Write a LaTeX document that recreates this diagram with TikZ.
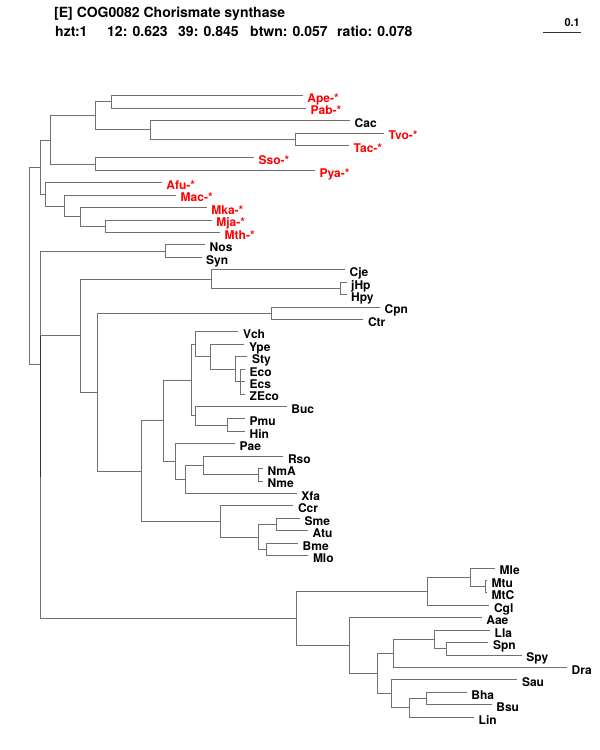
\documentclass[tikz,border=0pt]{standalone}
\usepackage{fontspec}
\setmainfont{TeX Gyre Heros}
\usepackage{tikz}

\begin{document}
\begin{tikzpicture}[x=1pt, y=-1pt,
  txt/.style={font=\fontsize{12}{14}\selectfont\bfseries, inner sep=0pt},
  head/.style={font=\fontsize{14}{16}\selectfont\bfseries, inner sep=0pt, anchor=base west},
  branch/.style={draw=black!56, line width=1pt},
  leaf/.style={txt, anchor=west, inner xsep=4.5pt, text height=13.6pt, text depth=0pt},
  arch/.style={leaf, text=red}]
  \fill[white] (0,0) rectangle (600,750);
  \useasboundingbox (0,0) rectangle (600,750);

  % header and scale
  \node[head] (title) at (54,17) {[E] COG0082 Chorismate synthase};
  \node[head] (hzt) at (55,36) {hzt:1};
  \node[head] (s12) at (107,36) {12: 0.623};
  \node[head] (s39) at (178,36) {39: 0.845};
  \node[head] (btwn) at (250,36) {btwn: 0.057};
  \node[head] (ratio) at (337,36) {ratio: 0.078};
  \coordinate (sc0) at (543,32);
  \coordinate (sc1) at (581,32);
  \draw[black!80, line width=1pt] (sc0) -- (sc1);
  \node[txt, font=\fontsize{11}{13}\selectfont\bfseries, anchor=base east] (scale) at (580,26.5) {0.1};

  % leaves
  \node[arch] (Ape) at (302.7,95.7) {Ape-*};
  \node[arch] (Pab) at (306,108.1) {Pab-*};
  \node[leaf] (Cac) at (350,120.6) {Cac};
  \node[arch] (Tvo) at (384,133.0) {Tvo-*};
  \node[arch] (Tac) at (349,145.4) {Tac-*};
  \node[arch] (Sso) at (254,157.9) {Sso-*};
  \node[arch] (Pya) at (315,170.3) {Pya-*};
  \node[arch] (Afu) at (161.7,182.7) {Afu-*};
  \node[arch] (Mac) at (176,195.1) {Mac-*};
  \node[arch] (Mka) at (206.7,207.6) {Mka-*};
  \node[arch] (Mja) at (211.7,220.0) {Mja-*};
  \node[arch] (Mth) at (220,232.4) {Mth-*};
  \node[leaf] (Nos) at (205,244.9) {Nos};
  \node[leaf] (Syn) at (201.5,257.3) {Syn};
  \node[leaf] (Cje) at (345,269.7) {Cje};
  \node[leaf] (jHp) at (346.5,282.2) {jHp};
  \node[leaf] (Hpy) at (346.5,294.6) {Hpy};
  \node[leaf] (Cpn) at (380,307.0) {Cpn};
  \node[leaf] (Ctr) at (363.3,319.4) {Ctr};
  \node[leaf] (Vch) at (238.3,331.9) {Vch};
  \node[leaf] (Ype) at (244.3,344.3) {Ype};
  \node[leaf] (Sty) at (247.3,356.7) {Sty};
  \node[leaf] (Eco) at (245,369.2) {Eco};
  \node[leaf] (Ecs) at (245,381.6) {Ecs};
  \node[leaf] (ZEco) at (245,394.0) {ZEco};
  \node[leaf] (Buc) at (286.7,406.5) {Buc};
  \node[leaf] (Pmu) at (245,418.9) {Pmu};
  \node[leaf] (Hin) at (245,431.3) {Hin};
  \node[leaf] (Pae) at (235,443.7) {Pae};
  \node[leaf] (Rso) at (283.3,456.2) {Rso};
  \node[leaf] (NmA) at (263,468.6) {NmA};
  \node[leaf] (Nme) at (263,481.0) {Nme};
  \node[leaf] (Xfa) at (296.7,493.5) {Xfa};
  \node[leaf] (Ccr) at (293.3,505.9) {Ccr};
  \node[leaf] (Sme) at (300,518.3) {Sme};
  \node[leaf] (Atu) at (308,530.8) {Atu};
  \node[leaf] (Bme) at (298,543.2) {Bme};
  \node[leaf] (Mlo) at (308.3,555.6) {Mlo};
  \node[leaf] (Mle) at (495,568.0) {Mle};
  \node[leaf] (Mtu) at (487,580.4) {Mtu};
  \node[leaf] (MtC) at (487,592.9) {MtC};
  \node[leaf] (Cgl) at (489.3,605.3) {Cgl};
  \node[leaf] (Aae) at (481.7,617.7) {Aae};
  \node[leaf] (Lla) at (490,630.2) {Lla};
  \node[leaf] (Spn) at (488.3,642.6) {Spn};
  \node[leaf] (Spy) at (521.7,655.0) {Spy};
  \node[leaf] (Dra) at (567,667.5) {Dra};
  \node[leaf] (Sau) at (517.3,679.9) {Sau};
  \node[leaf] (Bha) at (466.7,692.3) {Bha};
  \node[leaf] (Bsu) at (491.7,704.7) {Bsu};
  \node[leaf] (Lin) at (474,717.2) {Lin};

  % inner nodes
  \coordinate (nRoot) at (29.3,265.7);
  \coordinate (nArch) at (40,167.2);
  \coordinate (nA1) at (50.7,140.0);
  \coordinate (nA2) at (95,115.9);
  \coordinate (nAP) at (111.7,101.9);
  \coordinate (nCT) at (150.7,129.9);
  \coordinate (nTT) at (295,139.2);
  \coordinate (nSP) at (95,164.1);
  \coordinate (nB1) at (45.7,194.4);
  \coordinate (nB2) at (64,206.0);
  \coordinate (nB3) at (80.7,216.9);
  \coordinate (nMM) at (105,226.2);
  \coordinate (nQ) at (40,364.1);
  \coordinate (nNS) at (165,251.1);
  \coordinate (nP) at (40,477.1);
  \coordinate (nPE) at (80,335.6);
  \coordinate (nCH) at (211,279.1);
  \coordinate (nHP) at (340,288.4);
  \coordinate (nPC) at (97.7,392.2);
  \coordinate (nCC) at (271,313.2);
  \coordinate (nPro) at (141.7,471.1);
  \coordinate (nGam) at (163.3,420.8);
  \coordinate (nEnt) at (191.7,380.1);
  \coordinate (nVch) at (195.7,344.3);
  \coordinate (nYpe) at (210,356.8);
  \coordinate (nSty) at (235,369.2);
  \coordinate (nEco) at (240,381.6);
  \coordinate (nBuc) at (195.7,415.8);
  \coordinate (nPH) at (227.7,425.1);
  \coordinate (nPae) at (175.7,461.6);
  \coordinate (nXfa) at (185,479.5);
  \coordinate (nRso) at (203.3,465.5);
  \coordinate (nNM) at (258.3,474.8);
  \coordinate (nAlp) at (220.7,521.5);
  \coordinate (nRhi) at (258.3,537.0);
  \coordinate (nSA) at (276.7,524.6);
  \coordinate (nBM) at (266.7,549.4);
  \coordinate (nAF) at (296.7,618.5);
  \coordinate (nAct) at (427.7,591.3);
  \coordinate (nMle) at (470,577.3);
  \coordinate (nMT) at (485.7,586.7);
  \coordinate (nAae) at (349,645.7);
  \coordinate (nFir) at (377.7,673.7);
  \coordinate (nDra) at (393.3,653.5);
  \coordinate (nLla) at (434,639.5);
  \coordinate (nSS) at (446.7,648.8);
  \coordinate (nSau) at (391.7,693.9);
  \coordinate (nLin) at (409,707.9);
  \coordinate (nBB) at (426,698.5);

  % branches
  \draw[branch] (nRoot) |- (nArch) (nRoot) |- (nQ);
  \draw[branch] (nArch) |- (nA1) (nArch) |- (nB1);
  \draw[branch] (nA1) |- (nA2) (nA1) |- (nSP);
  \draw[branch] (nA2) |- (nAP) (nA2) |- (nCT);
  \draw[branch] (nAP) |- (Ape) (nAP) |- (Pab);
  \draw[branch] (nCT) |- (Cac) (nCT) |- (nTT);
  \draw[branch] (nTT) |- (Tvo) (nTT) |- (Tac);
  \draw[branch] (nSP) |- (Sso) (nSP) |- (Pya);
  \draw[branch] (nB1) |- (Afu) (nB1) |- (nB2);
  \draw[branch] (nB2) |- (Mac) (nB2) |- (nB3);
  \draw[branch] (nB3) |- (Mka) (nB3) |- (nMM);
  \draw[branch] (nMM) |- (Mja) (nMM) |- (Mth);
  \draw[branch] (nQ) |- (nNS) (nQ) |- (nP);
  \draw[branch] (nNS) |- (Nos) (nNS) |- (Syn);
  \draw[branch] (nP) |- (nPE) (nP) |- (nAF);
  \draw[branch] (nPE) |- (nCH) (nPE) |- (nPC);
  \draw[branch] (nCH) |- (Cje) (nCH) |- (nHP);
  \draw[branch] (nHP) |- (jHp) (nHP) |- (Hpy);
  \draw[branch] (nPC) |- (nCC) (nPC) |- (nPro);
  \draw[branch] (nCC) |- (Cpn) (nCC) |- (Ctr);
  \draw[branch] (nPro) |- (nGam) (nPro) |- (nAlp);
  \draw[branch] (nGam) |- (nEnt) (nGam) |- (nPae);
  \draw[branch] (nEnt) |- (nVch) (nEnt) |- (nBuc);
  \draw[branch] (nVch) |- (Vch) (nVch) |- (nYpe);
  \draw[branch] (nYpe) |- (Ype) (nYpe) |- (nSty);
  \draw[branch] (nSty) |- (Sty) (nSty) |- (nEco);
  \draw[branch] (nEco) |- (Eco) (nEco) |- (Ecs) (nEco) |- (ZEco);
  \draw[branch] (nBuc) |- (Buc) (nBuc) |- (nPH);
  \draw[branch] (nPH) |- (Pmu) (nPH) |- (Hin);
  \draw[branch] (nPae) |- (Pae) (nPae) |- (nXfa);
  \draw[branch] (nXfa) |- (nRso) (nXfa) |- (Xfa);
  \draw[branch] (nRso) |- (Rso) (nRso) |- (nNM);
  \draw[branch] (nNM) |- (NmA) (nNM) |- (Nme);
  \draw[branch] (nAlp) |- (Ccr) (nAlp) |- (nRhi);
  \draw[branch] (nRhi) |- (nSA) (nRhi) |- (nBM);
  \draw[branch] (nSA) |- (Sme) (nSA) |- (Atu);
  \draw[branch] (nBM) |- (Bme) (nBM) |- (Mlo);
  \draw[branch] (nAF) |- (nAct) (nAF) |- (nAae);
  \draw[branch] (nAct) |- (nMle) (nAct) |- (Cgl);
  \draw[branch] (nMle) |- (Mle) (nMle) |- (nMT);
  \draw[branch] (nMT) |- (Mtu) (nMT) |- (MtC);
  \draw[branch] (nAae) |- (Aae) (nAae) |- (nFir);
  \draw[branch] (nFir) |- (nDra) (nFir) |- (nSau);
  \draw[branch] (nDra) |- (nLla) (nDra) |- (Dra);
  \draw[branch] (nLla) |- (Lla) (nLla) |- (nSS);
  \draw[branch] (nSS) |- (Spn) (nSS) |- (Spy);
  \draw[branch] (nSau) |- (Sau) (nSau) |- (nLin);
  \draw[branch] (nLin) |- (nBB) (nLin) |- (Lin);
  \draw[branch] (nBB) |- (Bha) (nBB) |- (Bsu);
  \draw[line width=1pt, black!80] (nP |- nPE) -- (nP);
\end{tikzpicture}
\end{document}
